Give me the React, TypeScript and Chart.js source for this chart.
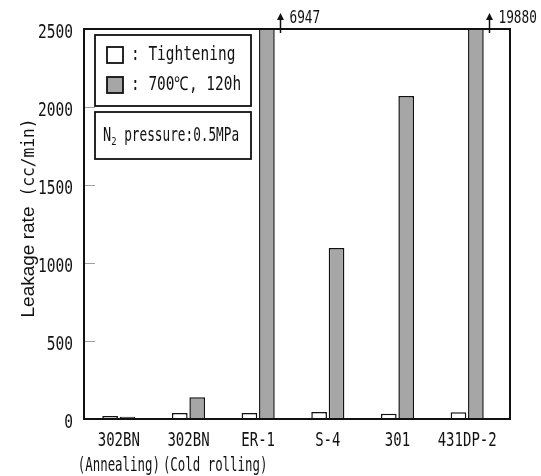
import React, { useEffect, useRef } from "react";
import { Chart, registerables } from "chart.js";

Chart.register(...registerables);

const categories = ["302BN", "302BN", "ER-1", "S-4", "301", "431DP-2"];
const subLabels = ["(Annealing)", "(Cold rolling)", "", "", "", ""];
const tighteningValues = [20, 38, 38, 45, 34, 43];
const heatedValues = [15, 139, 6947, 1096, 2070, 19880];
const seriesNames = ["Tightening", "700℃, 120h"];
const noteMain = "N";
const noteSub = "2";
const noteRest = " pressure:0.5MPa";
const yTicks = [0, 500, 1000, 1500, 2000, 2500];
const yMax = 2500;
const yTitleMain = "Leakage rate";
const yTitleUnit = "(cc/min)";

const MONO = "'DejaVu Sans Mono', 'Liberation Mono', monospace";
const SANS = "'Liberation Sans', Arial, sans-serif";
const INK = "#111111";
const GRAY = "#a6a6a6";
const FRAME_EXTRA = 8;

function narrowText(
  ctx: CanvasRenderingContext2D,
  text: string,
  x: number,
  y: number,
  font: string,
  sx: number,
  align: "left" | "center" | "right"
) {
  ctx.save();
  ctx.font = font;
  const w = ctx.measureText(text).width * sx;
  let left = x;
  if (align === "center") left = x - w / 2;
  else if (align === "right") left = x - w;
  ctx.translate(left, y);
  ctx.scale(sx, 1);
  ctx.textAlign = "left";
  ctx.fillText(text, 0, 0);
  ctx.restore();
  return w;
}

const decorPlugin = {
  id: "decor",
  afterDraw(chart: any) {
    const ctx = chart.ctx as CanvasRenderingContext2D;
    const area = chart.chartArea;
    const yScale = chart.scales.y;
    const xScale = chart.scales.x;
    ctx.save();
    ctx.textBaseline = "middle";
    ctx.fillStyle = INK;

    // inside tick marks
    ctx.strokeStyle = "#a0a0a0";
    ctx.lineWidth = 1;
    yScale.ticks.forEach((t: any) => {
      if (t.value <= 0 || t.value >= yMax) return;
      const y = Math.round(yScale.getPixelForValue(t.value)) + 0.5;
      ctx.beginPath();
      ctx.moveTo(area.left, y);
      ctx.lineTo(area.left + 11, y);
      ctx.stroke();
    });

    // frame
    ctx.strokeStyle = INK;
    ctx.lineWidth = 2;
    ctx.strokeRect(area.left, area.top, area.right + FRAME_EXTRA - area.left, area.bottom - area.top);

    // y tick labels
    ctx.fillStyle = INK;
    yScale.ticks.forEach((t: any) => {
      const y = yScale.getPixelForValue(t.value) + 3.5;
      narrowText(ctx, String(t.value), area.left - 11, y, `20px ${MONO}`, 0.727, "right");
    });

    // x tick labels
    const labels: string[] = chart.data.labels;
    labels.forEach((lab, i) => {
      narrowText(ctx, lab, xScale.getPixelForValue(i), area.bottom + 21.5, `20px ${MONO}`, 0.7, "center");
    });

    // sub labels
    let prevEnd = -Infinity;
    subLabels.forEach((s, i) => {
      if (!s) return;
      ctx.font = `20px ${MONO}`;
      const w = ctx.measureText(s).width * 0.62;
      let sx = xScale.getPixelForValue(i) - w / 2;
      if (sx < prevEnd + 3) sx = prevEnd + 3;
      narrowText(ctx, s, sx, area.bottom + 47, `20px ${MONO}`, 0.62, "left");
      prevEnd = sx + w;
    });

    // legend box
    const bx = area.left + 11;
    const bw = 156;
    ctx.fillStyle = "#ffffff";
    ctx.strokeStyle = INK;
    ctx.lineWidth = 1.8;
    ctx.fillRect(bx, area.top + 6, bw, 71);
    ctx.strokeRect(bx, area.top + 6, bw, 71);
    const swatchFills = ["#ffffff", GRAY];
    seriesNames.forEach((name, i) => {
      const sy = area.top + 18 + i * 30;
      ctx.fillStyle = swatchFills[i];
      ctx.fillRect(bx + 12, sy, 16, 16);
      ctx.strokeStyle = INK;
      ctx.lineWidth = 1.8;
      ctx.strokeRect(bx + 12, sy, 16, 16);
      ctx.fillStyle = INK;
      narrowText(ctx, ": " + name, bx + 36, sy + 8, `19px ${MONO}`, 0.76, "left");
    });

    // note box
    ctx.fillStyle = "#ffffff";
    ctx.fillRect(bx, area.top + 83, bw, 47);
    ctx.strokeRect(bx, area.top + 83, bw, 47);
    ctx.fillStyle = INK;
    const ny = area.top + 107;
    let nx = bx + 8;
    nx += narrowText(ctx, noteMain, nx, ny, `20px ${MONO}`, 0.68, "left");
    nx += narrowText(ctx, noteSub, nx, ny + 6, `11px ${MONO}`, 0.8, "left");
    narrowText(ctx, noteRest, nx, ny, `19px ${MONO}`, 0.67, "left");

    // overflow arrows
    const meta = chart.getDatasetMeta(1);
    heatedValues.forEach((v, i) => {
      if (v <= yMax) return;
      const bar: any = meta.data[i];
      const ax = Math.round(bar.x + bar.width / 2 + 5) + 0.5;
      const y0 = area.top + 4;
      const y1 = area.top - 16;
      ctx.strokeStyle = INK;
      ctx.lineWidth = 1.5;
      ctx.beginPath();
      ctx.moveTo(ax, y0);
      ctx.lineTo(ax, y1 + 4);
      ctx.stroke();
      ctx.fillStyle = INK;
      ctx.beginPath();
      ctx.moveTo(ax, y1);
      ctx.lineTo(ax - 3.5, y1 + 7);
      ctx.lineTo(ax + 3.5, y1 + 7);
      ctx.closePath();
      ctx.fill();
      narrowText(ctx, String(v), ax + 9, area.top - 10, `17px ${MONO}`, 0.75, "left");
    });

    // y title
    ctx.save();
    ctx.font = `19px ${SANS}`;
    const w1 = ctx.measureText(yTitleMain).width;
    ctx.font = `18px ${MONO}`;
    const w2 = ctx.measureText(yTitleUnit).width * 0.9;
    const total = w1 + 10 + w2;
    const cy = (area.top + area.bottom) / 2 - 6;
    ctx.translate(34, cy + total / 2);
    ctx.rotate(-Math.PI / 2);
    ctx.textAlign = "left";
    ctx.textBaseline = "alphabetic";
    ctx.fillStyle = INK;
    ctx.font = `19px ${SANS}`;
    ctx.fillText(yTitleMain, 0, 0);
    ctx.translate(w1 + 10, 0);
    ctx.scale(0.9, 1);
    ctx.font = `18px ${MONO}`;
    ctx.fillText(yTitleUnit, 0, 0);
    ctx.restore();

    ctx.restore();
  },
};

export default function App() {
  const canvasRef = useRef<HTMLCanvasElement | null>(null);

  useEffect(() => {
    if (!canvasRef.current) return;
    const chart = new Chart(canvasRef.current, {
      type: "bar",
      data: {
        labels: categories,
        datasets: [
          {
            label: seriesNames[0],
            data: tighteningValues,
            backgroundColor: "#ffffff",
            borderColor: INK,
            borderWidth: 1.5,
            categoryPercentage: 0.5,
            barPercentage: 0.9,
          },
          {
            label: seriesNames[1],
            data: heatedValues,
            backgroundColor: GRAY,
            borderColor: INK,
            borderWidth: 1.5,
            categoryPercentage: 0.5,
            barPercentage: 0.9,
          },
        ],
      },
      options: {
        responsive: false,
        animation: false,
        layout: { padding: { top: 29, right: 31 + FRAME_EXTRA, left: 1, bottom: 0 } },
        plugins: {
          legend: { display: false },
          tooltip: { enabled: false },
        },
        scales: {
          x: {
            grid: { display: false, drawTicks: false },
            border: { display: true, color: INK, width: 2 },
            ticks: { display: false, autoSkip: false },
            afterFit: (s: any) => {
              s.height = 57;
            },
          },
          y: {
            min: 0,
            max: yMax,
            afterBuildTicks: (s: any) => {
              s.ticks = yTicks.map((v) => ({ value: v }));
            },
            grid: { display: false, drawTicks: false },
            border: { display: true, color: INK, width: 2 },
            ticks: { display: false },
            afterFit: (s: any) => {
              s.width = 83;
            },
          },
        },
      },
      plugins: [decorPlugin],
    });
    return () => chart.destroy();
  }, []);

  return (
    <div style={{ position: "fixed", left: 0, top: 0, width: 541, height: 476, background: "#fff" }}>
      <canvas ref={canvasRef} width={541} height={476} style={{ display: "block" }} />
    </div>
  );
}
